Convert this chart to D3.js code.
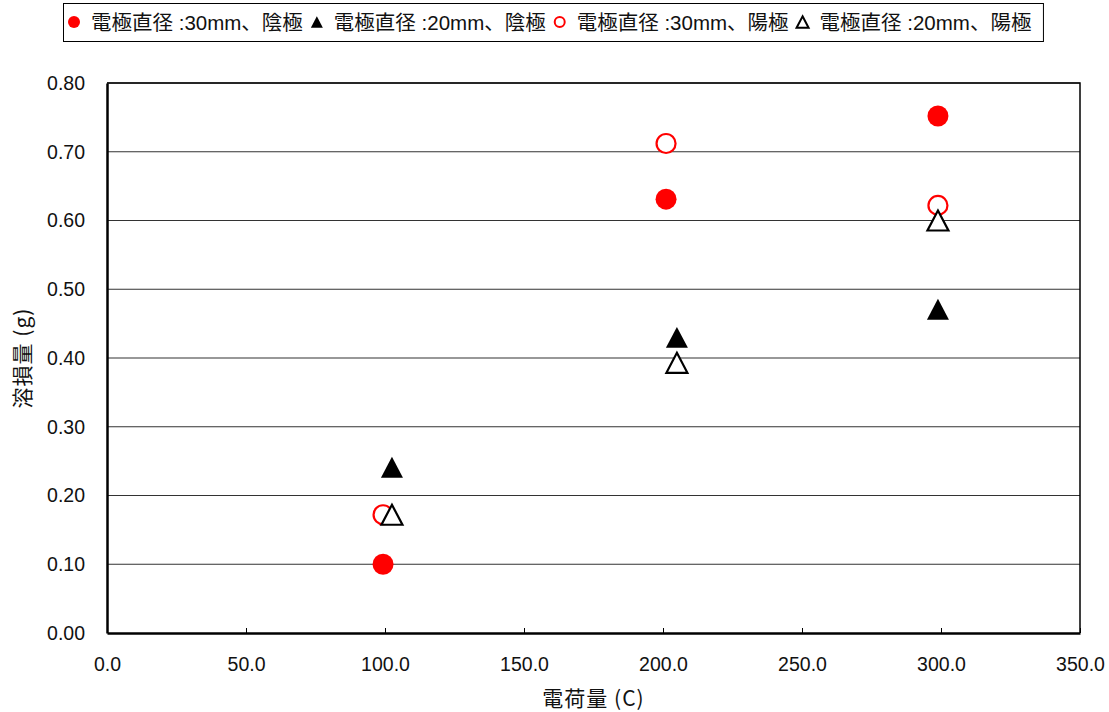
<!DOCTYPE html>
<html>
<head>
<meta charset="utf-8">
<script src="https://cdn.jsdelivr.net/npm/d3@7"></script>
<style>
  html, body { margin: 0; padding: 0; background: #fff; }
  svg { display: block; font-family: "Liberation Sans", Arial, "Noto Sans CJK JP", sans-serif; }
</style>
</head>
<body>
<svg id="chart" width="1109" height="712"></svg>
<script>
// Series names (legend order)
const seriesNames = [
  "電極直径 :30mm、陰極",
  "電極直径 :20mm、陰極",
  "電極直径 :30mm、陽極",
  "電極直径 :20mm、陽極"
];
// Charge (C) for each series
const chargeCathode30 = [99.3, 201.1, 298.9];
const chargeCathode20 = [102.5, 205.0, 298.9];
const chargeAnode30   = [99.3, 201.1, 298.9];
const chargeAnode20   = [102.5, 205.0, 298.9];
// Mass loss (g) for each series
const lossCathode30 = [0.100, 0.631, 0.752];
const lossCathode20 = [0.241, 0.430, 0.471];
const lossAnode30   = [0.172, 0.712, 0.622];
const lossAnode20   = [0.172, 0.393, 0.600];

const xTicks = [0, 50, 100, 150, 200, 250, 300, 350];
const yTicks = [0, 0.1, 0.2, 0.3, 0.4, 0.5, 0.6, 0.7, 0.8];
const xTitle = "電荷量 (C)";
const yTitle = "溶損量 (g)";

const series = [
  { name: seriesNames[0], xs: chargeCathode30, ys: lossCathode30, shape: "circle",   fill: "#ff0000", stroke: "none" },
  { name: seriesNames[1], xs: chargeCathode20, ys: lossCathode20, shape: "triangle", fill: "#000000", stroke: "none" },
  { name: seriesNames[2], xs: chargeAnode30,   ys: lossAnode30,   shape: "circle",   fill: "#ffffff", stroke: "#ff0000" },
  { name: seriesNames[3], xs: chargeAnode20,   ys: lossAnode20,   shape: "triangle", fill: "#ffffff", stroke: "#000000" }
];

const svg = d3.select("#chart");
const plot = { left: 107, right: 1080, top: 83, bottom: 633 };

const x = d3.scaleLinear().domain([0, 350]).range([plot.left, plot.right]);
const y = d3.scaleLinear().domain([0, 0.8]).range([plot.bottom, plot.top]);

// Horizontal gridlines
svg.append("g")
  .selectAll("line")
  .data(yTicks.slice(1))
  .join("line")
  .attr("x1", plot.left).attr("x2", plot.right)
  .attr("y1", d => y(d)).attr("y2", d => y(d))
  .attr("stroke", "#333").attr("stroke-width", 1.2);

// Plot frame (top & right)
svg.append("path")
  .attr("d", `M${plot.left},${plot.top}H${plot.right}V${plot.bottom}`)
  .attr("fill", "none").attr("stroke", "#000").attr("stroke-width", 1.5);

// X axis: inside ticks, labels below
const xAxis = d3.axisBottom(x).tickValues(xTicks).tickSizeInner(-5).tickSizeOuter(0)
  .tickFormat(d3.format(".1f")).tickPadding(24);
const gx = svg.append("g").attr("transform", `translate(0,${plot.bottom})`).call(xAxis);
gx.select(".domain").attr("stroke", "#000").attr("stroke-width", 2.5);
gx.selectAll(".tick line").attr("stroke", "#000").attr("stroke-width", 1);
gx.selectAll("text").attr("font-size", 19.5).attr("fill", "#111").attr("font-family", null);

// Y axis
const yAxis = d3.axisLeft(y).tickValues(yTicks).tickSizeInner(0).tickSizeOuter(0)
  .tickFormat(d3.format(".2f")).tickPadding(22);
const gy = svg.append("g").attr("transform", `translate(${plot.left},0)`).call(yAxis);
gy.select(".domain").attr("stroke", "#000").attr("stroke-width", 2.5);
gy.selectAll("text").attr("font-size", 19.5).attr("fill", "#111").attr("font-family", null);

// Axis titles
const titleFont = '"Noto Sans CJK JP", sans-serif';
svg.append("text")
  .attr("x", (plot.left + plot.right) / 2).attr("y", 706)
  .attr("text-anchor", "middle").attr("font-size", 21).attr("fill", "#111")
  .attr("font-family", titleFont).attr("letter-spacing", 1)
  .text(xTitle);
svg.append("text")
  .attr("transform", `translate(30,${(plot.top + plot.bottom) / 2}) rotate(-90)`)
  .attr("text-anchor", "middle").attr("font-size", 21).attr("fill", "#111")
  .attr("font-family", titleFont).attr("letter-spacing", 1)
  .text(yTitle);

// Marker shapes
function markerPath(shape, size) {
  const p = d3.path();
  if (shape === "circle") {
    const r = size / 2;
    p.moveTo(r, 0);
    p.arc(0, 0, r, 0, Math.PI * 2);
  } else {
    const w = size, h = size * 0.95;
    p.moveTo(0, -h / 2);
    p.lineTo(w / 2, h / 2);
    p.lineTo(-w / 2, h / 2);
    p.closePath();
  }
  return p.toString();
}

// Data points
series.forEach(s => {
  const pts = s.xs.map((v, i) => [v, s.ys[i]]);
  const isOpen = s.fill === "#ffffff";
  const size = s.shape === "circle" ? (isOpen ? 19 : 21) : (isOpen ? 21 : 22);
  svg.append("g")
    .selectAll("path")
    .data(pts)
    .join("path")
    .attr("transform", d => `translate(${x(d[0])},${y(d[1])})`)
    .attr("d", markerPath(s.shape, size))
    .attr("fill", s.fill)
    .attr("stroke", s.stroke)
    .attr("stroke-width", 2.2)
    .attr("stroke-linejoin", "miter");
});

// Legend
const legend = svg.append("g");
const legendBox = legend.append("rect")
  .attr("x", 63.5).attr("y", 3.5).attr("height", 38)
  .attr("fill", "#fff").attr("stroke", "#000").attr("stroke-width", 1);
let cx = 74;
series.forEach((s, i) => {
  const open = s.fill === "#ffffff";
  legend.append("path")
    .attr("transform", `translate(${cx},${22})`)
    .attr("d", markerPath(s.shape, s.shape === "circle" ? (open ? 10 : 12) : 12))
    .attr("fill", s.fill).attr("stroke", s.stroke).attr("stroke-width", 2);
  const t = legend.append("text")
    .attr("x", cx + 17).attr("y", 29.5)
    .attr("font-size", 20.5).attr("fill", "#111")
    .text(s.name);
  const w = t.node().getComputedTextLength();
  cx = cx + 17 + w + 14;
});
legendBox.attr("width", cx - 14 + 12 - 63.5);
</script>
</body>
</html>
